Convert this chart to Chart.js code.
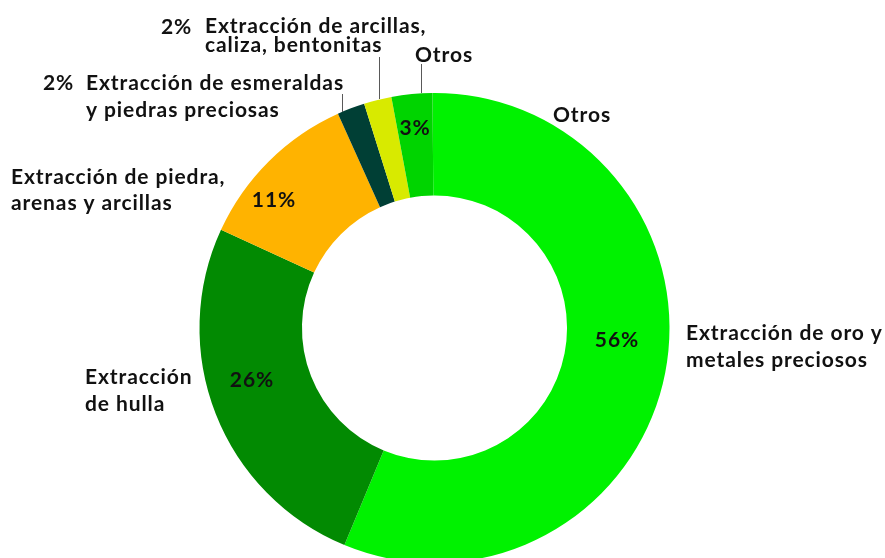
<!DOCTYPE html>
<html>
<head>
<meta charset="utf-8">
<script src="https://cdn.jsdelivr.net/npm/chart.js@4.4.1/dist/chart.umd.min.js"></script>
<style>
  html, body { margin: 0; padding: 0; background: #fff; overflow: hidden; }
  #wrap { position: relative; width: 885px; height: 600px; }
</style>
</head>
<body>
<div id="wrap"><canvas id="miningChart"></canvas></div>
<script>
// data
const categories = [
    ['Extracción de oro y', 'metales preciosos'],
    ['Extracción', 'de hulla'],
    ['Extracción de piedra,', 'arenas y arcillas'],
    ['Extracción de esmeraldas', 'y piedras preciosas'],
    ['Extracción de arcillas,', 'caliza, bentonitas'],
    ['Otros']
];
const shares = [56.4, 25.6, 11.4, 1.9, 1.9, 2.8];
const sliceColors = ['#00f200', '#028a02', '#ffb300', '#003f35', '#d8ea00', '#00d400'];
const strayLabel = 'Otros';

// where each text goes (px), kept apart from the data
const FONT = 'bold 21px Lato';
const nameLayout = [
    { x: 686, y: [340, 366.5], pct: { x: 617, y: 347, align: 'center' } },
    { x: 85,  y: [384, 411],   pct: { x: 252, y: 387, align: 'center' } },
    { x: 11,  y: [184, 210],   pct: { x: 274, y: 207, align: 'center' } },
    { x: 86,  y: [90, 117],    pct: { x: 43,  y: 90,  align: 'left' }, leader: [342, 94, 112] },
    { x: 205, y: [33, 52],     pct: { x: 161, y: 34,  align: 'left' }, leader: [379, 57, 99] },
    { x: 415, y: [62],         pct: { x: 415, y: 135, align: 'center' }, leader: [421, 64, 93] }
];
const strayPos = { x: 553, y: 122 };

const labelPlugin = {
    id: 'outerLabels',
    afterDraw(chart) {
        const ctx = chart.ctx;
        ctx.save();
        ctx.font = FONT;
        ctx.letterSpacing = '0.9px';
        ctx.fillStyle = '#111';
        ctx.textBaseline = 'alphabetic';
        categories.forEach((lines, i) => {
            const l = nameLayout[i];
            ctx.textAlign = 'left';
            lines.forEach((t, k) => ctx.fillText(t, l.x, l.y[k]));
            ctx.textAlign = l.pct.align;
            ctx.fillText(Math.round(shares[i]) + '%', l.pct.x, l.pct.y);
            if (l.leader) {
                ctx.strokeStyle = '#595959';
                ctx.lineWidth = 1;
                ctx.beginPath();
                ctx.moveTo(l.leader[0] + 0.5, l.leader[1]);
                ctx.lineTo(l.leader[0] + 0.5, l.leader[2]);
                ctx.stroke();
            }
        });
        ctx.textAlign = 'left';
        ctx.fillText(strayLabel, strayPos.x, strayPos.y);
        ctx.restore();
    }
};

const ctxEl = document.getElementById('miningChart');
new Chart(ctxEl.getContext('2d'), {
    type: 'doughnut',
    data: {
        labels: categories.map(c => c.join(' ')),
        datasets: [{
            data: shares,
            backgroundColor: sliceColors,
            borderWidth: 0
        }]
    },
    options: {
        responsive: true,
        maintainAspectRatio: false,
        animation: false,
        rotation: -0.5,
        cutout: '56.4%',
        layout: { padding: { left: 199.5, right: 215.5, top: 93, bottom: 37 } },
        plugins: {
            legend: { display: false },
            tooltip: { enabled: false }
        }
    },
    plugins: [labelPlugin]
});
</script>
</body>
</html>
